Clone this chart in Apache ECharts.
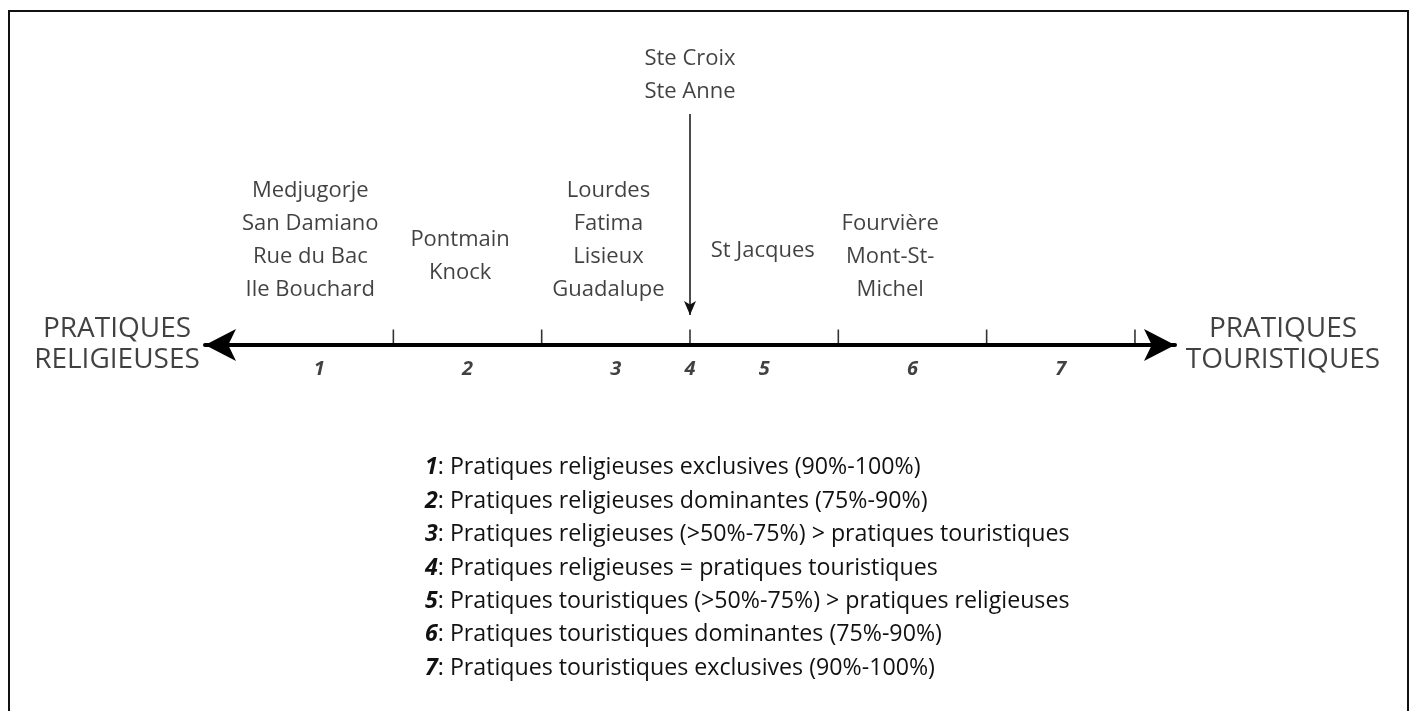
<!DOCTYPE html>
<html>
<head>
<meta charset="utf-8">
<title>Pratiques religieuses / touristiques</title>
<script src="https://cdn.jsdelivr.net/npm/echarts@6/dist/echarts.min.js"></script>
<style>
  html, body { margin: 0; padding: 0; background: #fff; }
  #chart { width: 1416px; height: 711px; }
</style>
</head>
<body>
<div id="chart"></div>
<script>
// zones along the axis (7 zones, ticks between them)
const zoneLabels = ["1", "2", "3", "4", "5", "6", "7"];
const zonePositions = [0.5, 1.5, 2.5, 3, 3.5, 4.5, 5.5];
const tickPositions = [1, 2, 3, 4, 5, 6];

// sites placed on the scale
const sitePositions = [0.44, 1.45, 2.45, 3, 3.49, 4.35];
const siteNames = [
  ["Medjugorje", "San Damiano", "Rue du Bac", "Ile Bouchard"],
  ["Pontmain", "Knock"],
  ["Lourdes", "Fatima", "Lisieux", "Guadalupe"],
  ["Ste Croix", "Ste Anne"],
  ["St Jacques"],
  ["Fourvière", "Mont-St-", "Michel"]
];

const leftEnd = "PRATIQUES\nRELIGIEUSES";
const rightEnd = "PRATIQUES\nTOURISTIQUES";

const legendNumbers = ["1", "2", "3", "4", "5", "6", "7"];
const legendTexts = [
  "Pratiques religieuses exclusives (90%-100%)",
  "Pratiques religieuses dominantes (75%-90%)",
  "Pratiques religieuses (>50%-75%) > pratiques touristiques",
  "Pratiques religieuses = pratiques touristiques",
  "Pratiques touristiques (>50%-75%) > pratiques religieuses",
  "Pratiques touristiques dominantes (75%-90%)",
  "Pratiques touristiques exclusives (90%-100%)"
];

// layout only: gap (px) between axis and bottom of each site label block
const siteLift = [39, 56, 39, 237, 78, 39];
const AXIS_MIN = -0.27, AXIS_MAX = 6.27;
const FONT = "'Open Sans', sans-serif";

const chart = echarts.init(document.getElementById("chart"), null, { renderer: "canvas" });

const option = {
  backgroundColor: "#fff",
  animation: false,
  grid: { left: 205, right: 241, top: 40, bottom: 366 },
  xAxis: {
    type: "value",
    min: AXIS_MIN,
    max: AXIS_MAX,
    splitLine: { show: false },
    axisTick: { show: false },
    axisLabel: { show: false },
    axisLine: {
      show: true,
      symbol: ["arrow", "arrow"],
      symbolSize: [24, 31],
      lineStyle: { color: "#000", width: 4 }
    }
  },
  yAxis: {
    type: "value",
    min: 0,
    max: 305,
    show: false
  },
  series: [
    {
      // tick marks
      type: "scatter",
      silent: true,
      symbol: "rect",
      symbolSize: [1.6, 15],
      symbolOffset: [0, -8],
      itemStyle: { color: "#000" },
      data: tickPositions.map(x => [x, 0])
    },
    {
      // zone numbers
      type: "scatter",
      silent: true,
      symbolSize: 0,
      data: zonePositions.map((x, i) => ({ value: [x, 0], name: zoneLabels[i] })),
      label: {
        show: true,
        position: "bottom",
        distance: 14,
        formatter: p => p.name,
        fontFamily: FONT,
        fontSize: 20,
        fontWeight: "bold",
        fontStyle: "italic",
        color: "#111"
      }
    },
    {
      // sites
      type: "scatter",
      silent: true,
      symbolSize: 0,
      data: sitePositions.map((x, i) => ({
        value: [x, 0],
        name: siteNames[i].join("\n"),
        label: { distance: siteLift[i] }
      })),
      label: {
        show: true,
        position: "top",
        formatter: p => p.name,
        fontFamily: FONT,
        fontSize: 22,
        lineHeight: 33,
        align: "center",
        color: "#111"
      },
      markLine: {
        silent: true,
        symbol: ["none", "arrow"],
        symbolSize: [9, 14],
        label: { show: false },
        lineStyle: { color: "#111", width: 1.5, type: "solid" },
        data: [[{ coord: [3, 231] }, { coord: [3, 30] }]]
      }
    },
    {
      // axis end captions
      type: "scatter",
      silent: true,
      symbolSize: 0,
      data: [
        { value: [AXIS_MIN, 0], name: leftEnd, label: { position: "left", distance: 88, align: "center" } },
        { value: [AXIS_MAX, 0], name: rightEnd, label: { position: "right", distance: 108, align: "center" } }
      ],
      label: {
        show: true,
        formatter: p => p.name,
        fontFamily: FONT,
        fontSize: 28,
        lineHeight: 31,
        color: "#111"
      }
    }
  ],
  graphic: [
    {
      type: "rect",
      silent: true,
      shape: { x: 9, y: 11, width: 1399, height: 740 },
      style: { fill: "none", stroke: "#111", lineWidth: 2 }
    },
    {
      type: "text",
      left: 425,
      top: 451,
      silent: true,
      style: {
        text: legendTexts.map((t, i) => "{n|" + legendNumbers[i] + "}: " + t).join("\n"),
        fontFamily: FONT,
        fontSize: 23.2,
        lineHeight: 33.4,
        fill: "#111",
        rich: {
          n: { fontFamily: FONT, fontSize: 23.2, lineHeight: 33.4, fontWeight: "bold", fontStyle: "italic", fill: "#111" }
        }
      }
    }
  ]
};

chart.setOption(option);
window.addEventListener("resize", () => chart.resize());
</script>
</body>
</html>
